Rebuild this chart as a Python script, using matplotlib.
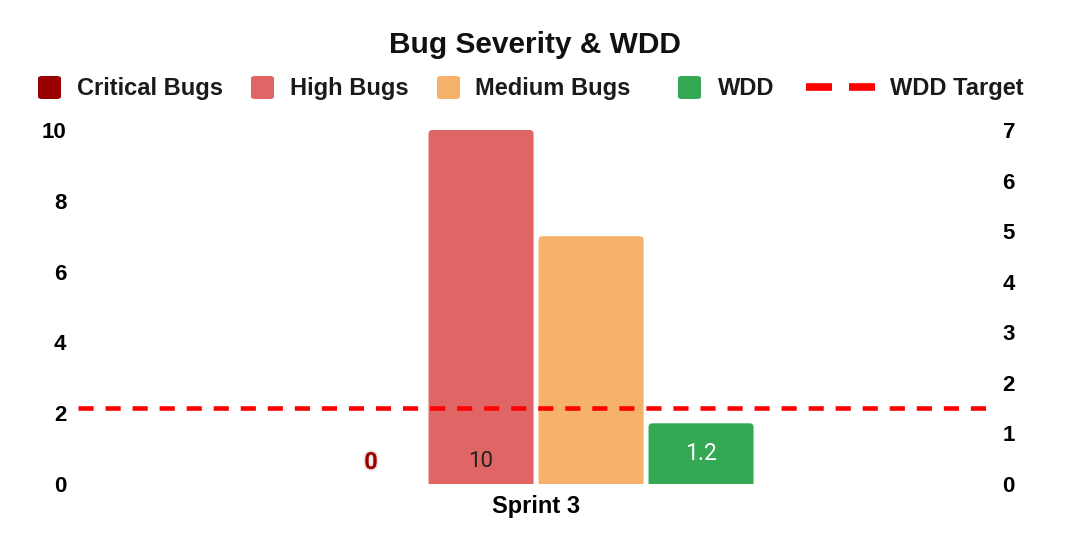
import matplotlib
matplotlib.use("Agg")
import matplotlib.pyplot as plt
from matplotlib.patches import FancyBboxPatch
from matplotlib.lines import Line2D
import matplotlib.patheffects as pe

plt.rcParams['font.family'] = ['Liberation Sans', 'DejaVu Sans']

# data
sprints = ["Sprint 3"]
critical = [0]
high = [10]
medium = [7]
wdd = [1.2]
wdd_target = 1.5

series_names = ["Critical Bugs", "High Bugs", "Medium Bugs", "WDD"]
colors = ["#990000", "#E06666", "#F6B26B", "#34A853"]
target_color = "#FF0000"

W, H = 1070, 548
fig = plt.figure(figsize=(W / 100, H / 100), dpi=100)
ax = fig.add_axes([78 / W, 1 - 484 / H, 912 / W, 354 / H])
ax2 = ax.twinx()

x0 = 0
offs = [-1.5, -0.5, 0.5, 1.5]
bw = 0.955


def round_tops(a, bars, aspect):
    # swap the plain rectangles for ones with slightly rounded corners
    r = 0.036
    for b in bars:
        x, y, w, h = b.get_x(), b.get_y(), b.get_width(), b.get_height()
        if h <= 0:
            continue
        b.set_visible(False)
        extra = r * aspect
        p = FancyBboxPatch((x, y - extra), w, h + extra,
                           boxstyle=f"round,pad=0,rounding_size={r}",
                           mutation_aspect=aspect, facecolor=b.get_facecolor(),
                           edgecolor="none")
        a.add_patch(p)


ax.set_xlim(-4.164, 4.127)
ax.set_ylim(0, 10)
ax2.set_ylim(0, 7)

round_tops(ax, ax.bar(x0 + offs[0], critical[0], bw, color=colors[0]), 110 / 35.4)
round_tops(ax, ax.bar(x0 + offs[1], high[0], bw, color=colors[1]), 110 / 35.4)
round_tops(ax, ax.bar(x0 + offs[2], medium[0], bw, color=colors[2]), 110 / 35.4)
round_tops(ax2, ax2.bar(x0 + offs[3], wdd[0], bw, color=colors[3]), 110 / 50.57)
ax2.axhline(wdd_target, color=target_color, lw=3.3, ls=(0, (3.3, 2.6)))

ax.set_xlim(-4.164, 4.127)
ax.set_ylim(0, 10)
ax2.set_ylim(0, 7)
ax.set_yticks(range(0, 11, 2))
ax2.set_yticks(range(0, 8))
ax.set_xticks([x0])
ax.set_xticklabels(sprints)

for a in (ax, ax2):
    for s in a.spines.values():
        s.set_visible(False)
    a.tick_params(length=0, labelsize=16)
    for lab in a.get_yticklabels():
        lab.set_fontweight("bold")
ax.tick_params(axis="y", pad=8.5)
ax2.tick_params(axis="y", pad=9)
ax.tick_params(axis="x", pad=8, labelsize=17)
for lab in ax.get_xticklabels():
    lab.set_fontweight("bold")

# data labels
ax.annotate(str(critical[0]), (x0 + offs[0], 0), xytext=(0, 15.5), textcoords="offset points",
            ha="center", va="center", fontsize=17, fontweight="bold", color=colors[0],
            family=["Roboto", "DejaVu Sans"],
            path_effects=[pe.withStroke(linewidth=2.5, foreground="#f4dede")])
ax.annotate(str(high[0]), (x0 + offs[1], 0), xytext=(0, 16), textcoords="offset points",
            ha="center", va="center", fontsize=16, color="#222222",
            family=["Roboto", "DejaVu Sans"])
ax2.annotate(str(wdd[0]), (x0 + offs[3], wdd[0] / 2), ha="center", va="center",
             fontsize=16.5, color="white", family=["Roboto", "DejaVu Sans"])

# title
fig.text(535 / W, 1 - 53 / H, "Bug Severity & WDD", ha="center", va="baseline",
         fontsize=21.5, fontweight="bold", color="#111111")

# legend, drawn by hand to mimic the box / dash sizes
ly = 87
box_x = [38, 251, 437, 678]
text_x = [77, 290, 475, 718]
for bx, tx, name, c in zip(box_x, text_x, series_names, colors):
    fig.patches.append(FancyBboxPatch(((bx) / W, 1 - (ly + 12) / H), 23 / W, 23 / H,
                                      boxstyle="round,pad=0,rounding_size=0.004",
                                      transform=fig.transFigure, facecolor=c,
                                      edgecolor="none"))
    fig.text(tx / W, 1 - 95 / H, name, ha="left", va="baseline", fontsize=17,
             fontweight="bold", color="#1a1a1a")
for d0, d1 in [(806, 832), (849, 875)]:
    fig.lines.append(Line2D([d0 / W, d1 / W], [1 - ly / H, 1 - ly / H], lw=5.5,
                            color=target_color, transform=fig.transFigure,
                            solid_capstyle="butt"))
fig.text(890 / W, 1 - 95 / H, "WDD Target", ha="left", va="baseline", fontsize=17,
         fontweight="bold", color="#1a1a1a")

fig.savefig("out.png", dpi=100)
